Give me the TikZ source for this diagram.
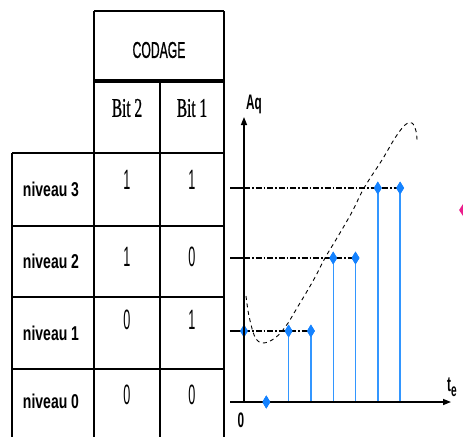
\documentclass[tikz,border=0pt]{standalone}
\usepackage{fontspec}
\usetikzlibrary{shapes.geometric,arrows.meta}
\newfontfamily\hsans[FakeStretch=0.53,FakeBold=0.8]{Liberation Sans}
\newfontfamily\lsans[FakeStretch=0.7]{Liberation Sans}
\newfontfamily\asans[FakeStretch=0.56]{Liberation Sans}
\newfontfamily\nserif[FakeStretch=0.57,FakeBold=0.8]{Liberation Serif}
\newfontfamily\thinsans[FakeStretch=0.45]{Liberation Sans}
\definecolor{dotblue}{RGB}{20,130,255}
\definecolor{stemblue}{RGB}{50,150,255}
\definecolor{pinkm}{RGB}{235,30,140}
\begin{document}
\begin{tikzpicture}[x=1pt,y=-1pt,
  tline/.style={line width=1.3pt, black},
  tthick/.style={line width=2pt, black},
  headtxt/.style={font=\hsans\fontsize{23}{23}\selectfont, inner sep=0pt},
  bittxt/.style={font=\nserif\fontsize{27}{27}\selectfont, inner sep=0pt},
  lvltxt/.style={font=\lsans\bfseries\fontsize{20}{20}\selectfont, inner sep=0pt},
  digtxt/.style={font=\thinsans\fontsize{28}{28}\selectfont, inner sep=0pt},
  axtxt/.style={font=\asans\bfseries\fontsize{21}{21}\selectfont, inner sep=0pt},
  axis/.style={line width=1.4pt, black, -{Triangle[length=8pt,width=6pt]}},
  levtick/.style={line width=1.4pt, black},
  dashdot/.style={line width=1.2pt, black, dash pattern=on 6pt off 2pt on 1.5pt off 2pt},
  stem/.style={line width=1.4pt, stemblue},
  sample/.style={shape=diamond, fill=dotblue, draw=none, minimum width=8pt, minimum height=13pt, inner sep=0pt},
  curve/.style={line width=0.9pt, black, dash pattern=on 4pt off 3.5pt}
]
\useasboundingbox (0,0) rectangle (463,437);
% ---------- table ----------
\draw[line width=2.5pt] (94,11) -- (224,11);
\draw[tline] (94,11) -- (94,437);
\draw[tline] (224,11) -- (224,437);
\draw[line width=3.5pt] (94,81) -- (224,81);
\draw[tline] (160,81) -- (160,437);
\draw[tthick] (12,153) -- (12,437);
\draw[tthick] (12,153) -- (224,153);
\draw[tthick] (12,226) -- (94,226);
\draw[tline] (94,226) -- (224,226);
\draw[tthick] (12,297) -- (94,297);
\draw[tline] (94,297) -- (224,297);
\draw[tthick] (12,369) -- (94,369);
\draw[tline] (94,369) -- (224,369);

\node[headtxt] (codage) at (159,50) {CODAGE};
\node[bittxt] (bit2) at (127,108) {Bit 2};
\node[bittxt] (bit1) at (192,108) {Bit 1};

\node[lvltxt] (n3) at (51,189) {niveau 3};
\node[lvltxt] (n2) at (51,261) {niveau 2};
\node[lvltxt] (n1) at (51,333) {niveau 1};
\node[lvltxt] (n0) at (51,401) {niveau 0};

\node[digtxt] (b23) at (127,180) {1};
\node[digtxt] (b13) at (192,180) {1};
\node[digtxt] (b22) at (127,257) {1};
\node[digtxt] (b12) at (192,257) {0};
\node[digtxt] (b21) at (127,320) {0};
\node[digtxt] (b11) at (192,320) {1};
\node[digtxt] (b20) at (127,395) {0};
\node[digtxt] (b10) at (192,395) {0};

% ---------- graph ----------
\coordinate (O) at (244,402);
\coordinate (ytip) at (244,117);
\coordinate (xst) at (230,402);
\coordinate (xtip) at (451,402);
\coordinate (L1) at (230,331);
\coordinate (L2) at (230,258);
\coordinate (L3) at (230,188);
\coordinate (A1) at (244,331);
\coordinate (A2) at (244,258);
\coordinate (A3) at (244,188);

% stems
\foreach \i/\lv in {0/331,1/402,2/331,3/331,4/258,5/258,6/188,7/188}{
  \coordinate (f\i) at ({244+22.3*\i},402);
  \node[sample] (s\i) at ({244+22.3*\i},\lv) {};
}
\foreach \i in {0,2,3,4,5,6,7}{ \draw[stem] (f\i) -- (s\i.center); }

% level lines
\draw[levtick] (L1) -- (A1);
\draw[levtick] (L2) -- (A2);
\draw[levtick] (L3) -- (A3);
\draw[dashdot] (A1) -- (s3.center);
\draw[dashdot] (A2) -- (s5.center);
\draw[dashdot] (A3) -- (s7.center);

% redraw dots on top
\foreach \i/\lv in {0/331,1/402,2/331,3/331,4/258,5/258,6/188,7/188}{
  \node[sample] at ({244+22.3*\i},\lv) {};
}

% axes
\draw[axis] (O) -- (ytip);
\draw[axis] (xst) -- (xtip);
\node[sample] at (f1) {};

% analog curve
\draw[curve] plot[smooth, tension=0.6] coordinates {
 (246,296) (249,316) (255,337) (263,343) (275,338) (286,326) (297,308)
 (313,281) (325,258) (337,238) (352,212) (364,188) (382,160) (395,138)
 (405,125) (412,123) (416,131) (417,140)};

\node[axtxt, anchor=south west] (aq) at (246,114) {Aq};
\node[axtxt, anchor=south west] (te) at (447,397) {t\raisebox{-5pt}{\fontsize{18}{18}\selectfont e}};
\node[axtxt] (zero) at (241,420) {0};

% partial magenta marker at right edge
\node[shape=diamond, fill=pinkm, minimum width=8pt, minimum height=12pt, inner sep=0pt] (pk) at (463,210) {};
\end{tikzpicture}
\end{document}
